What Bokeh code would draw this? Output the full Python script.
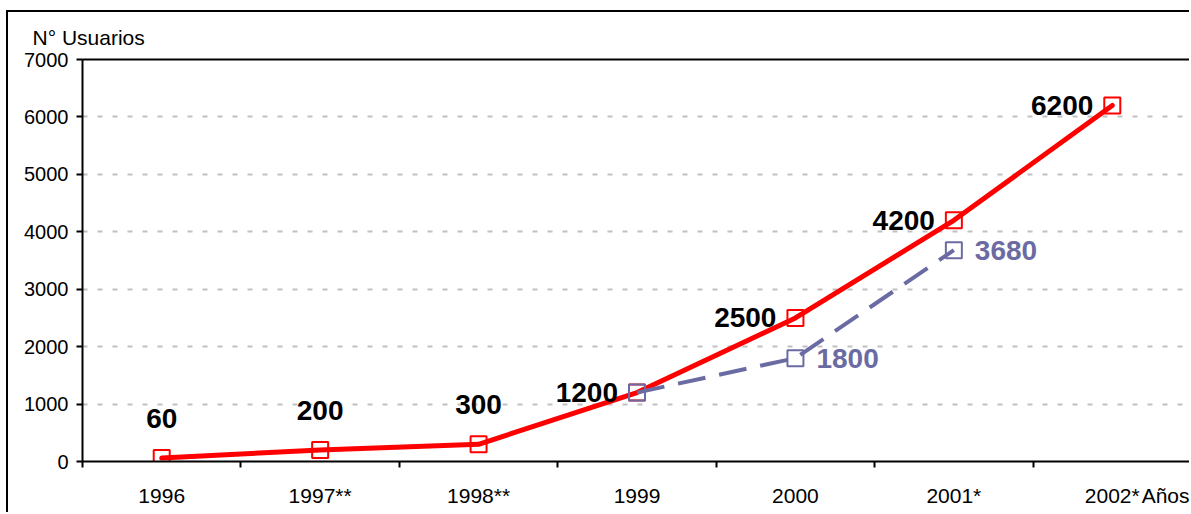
from bokeh.plotting import figure
from bokeh.models import FixedTicker, LinearAxis, Range1d, Grid, Title
from bokeh.core.properties import value
from bokeh.embed import file_html
from bokeh.resources import INLINE

# ---- data ----
categories = ["1996", "1997**", "1998**", "1999", "2000", "2001*", "2002*"]
usuarios = [60, 200, 300, 1200, 2500, 4200, 6200]
proj_categories = ["1999", "2000", "2001*"]
proj_usuarios = [1200, 1800, 3680]
y_ticks = [0, 1000, 2000, 3000, 4000, 5000, 6000, 7000]
y_title = "N° Usuarios"
x_title = "Años"

# ---- styling ----
RED = "#FF0000"
PURPLE = "#6B6BA3"
FONT = value("Liberation Sans")

n = len(categories)
centers = [i + 0.5 for i in range(n)]
bounds = [float(i) for i in range(n + 1)]
xs = [categories.index(c) + 0.5 for c in categories]
pxs = [categories.index(c) + 0.5 for c in proj_categories]
x_title_pos = n - 0.12  # where the axis name sits, right of the last category label

p = figure(width=1183, height=502, x_range=Range1d(0, n), y_range=Range1d(0, y_ticks[-1]),
           output_backend="svg", toolbar_location=None,
           x_axis_type=None, y_axis_type=None,
           min_border_left=74, min_border_top=47, min_border_bottom=53, min_border_right=0,
           styles={"border-left": "2px solid black", "border-top": "2px solid black",
                   "margin-left": "6px", "margin-top": "10px"})
p.outline_line_color = None
p.background_fill_color = "white"
p.border_fill_color = "white"

yaxis = LinearAxis(ticker=FixedTicker(ticks=y_ticks))
yaxis.axis_line_width = 2
yaxis.major_tick_line_width = 2
yaxis.major_tick_out = 6
yaxis.major_tick_in = 0
yaxis.minor_tick_line_color = None
yaxis.major_label_standoff = 8
yaxis.major_label_text_font = "Liberation Sans"
yaxis.major_label_text_font_size = "20px"
yaxis.major_label_text_color = "black"
p.add_layout(yaxis, "left")

overrides = {c: lab for c, lab in zip(centers, categories)}
overrides[x_title_pos] = x_title
xaxis = LinearAxis(ticker=FixedTicker(ticks=centers + [x_title_pos], minor_ticks=bounds),
                   major_label_overrides=overrides)
xaxis.axis_line_width = 2
xaxis.major_tick_line_color = None
xaxis.major_tick_out = 0
xaxis.major_tick_in = 0
xaxis.minor_tick_line_width = 2
xaxis.minor_tick_out = 6
xaxis.minor_tick_in = 0
xaxis.major_label_standoff = 16
xaxis.major_label_text_font = "Liberation Sans"
xaxis.major_label_text_font_size = "21px"
xaxis.major_label_text_color = "black"
p.add_layout(xaxis, "below")

top = LinearAxis(ticker=FixedTicker(ticks=[]))
top.axis_line_width = 2
top.major_tick_line_color = None
top.minor_tick_line_color = None
top.major_tick_out = 0
top.major_tick_in = 0
top.minor_tick_out = 0
top.minor_tick_in = 0
top.major_label_standoff = 0
top.axis_label_standoff = 0
top.major_label_text_font_size = "0px"
p.add_layout(top, "above")

p.add_layout(Title(text=y_title, align="left", offset=-50, standoff=22, padding=0,
                   text_font="Liberation Sans", text_font_style="normal",
                   text_font_size="21px", text_color="black"), "above")

grid = Grid(dimension=1, ticker=FixedTicker(ticks=y_ticks[1:]))
grid.grid_line_color = "#C0C0C0"
grid.grid_line_width = 2
grid.grid_line_dash = "5 10"
p.add_layout(grid)

# red series
p.line(xs, usuarios, line_color=RED, line_width=5, line_cap="round", line_join="round")
p.scatter(xs, usuarios, marker="square", size=16, fill_color=None, line_color=RED, line_width=2)

# projected series
p.line(pxs, proj_usuarios, line_color=PURPLE, line_width=4, line_dash="28 14")
p.scatter(pxs, proj_usuarios, marker="square", size=16, fill_color=None, line_color=PURPLE, line_width=2)

# value labels (first three above the point, the rest beside it)
p.text(xs[:3], usuarios[:3], text=[str(v) for v in usuarios[:3]], text_font=FONT,
       text_font_style="bold", text_font_size="28px", text_color="black",
       text_align="center", text_baseline="middle", y_offset=-40)
p.text(xs[3:], usuarios[3:], text=[str(v) for v in usuarios[3:]], text_font=FONT,
       text_font_style="bold", text_font_size="28px", text_color="black",
       text_align="right", text_baseline="middle", x_offset=-19)
p.text(pxs[1:], proj_usuarios[1:], text=[str(v) for v in proj_usuarios[1:]], text_font=FONT,
       text_font_style="bold", text_font_size="28px", text_color=PURPLE,
       text_align="left", text_baseline="middle", x_offset=21)

open("out.html", "w").write(file_html(p, INLINE))
